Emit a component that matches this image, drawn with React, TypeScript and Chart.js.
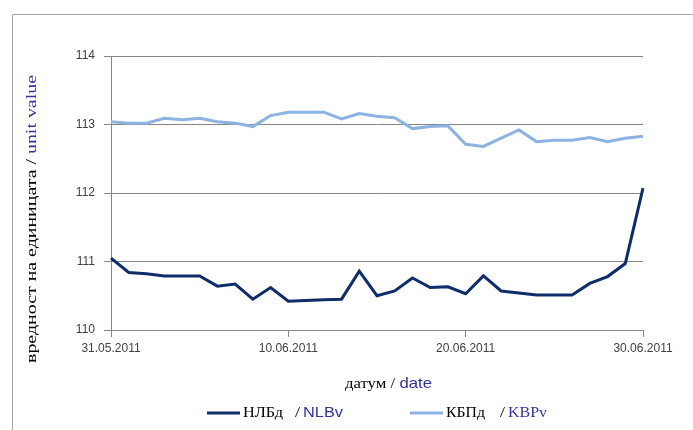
import React, { useEffect, useRef } from "react";
import { Chart, registerables } from "chart.js";

Chart.register(...registerables);

const dates: string[] = [
  "31.05.2011", "01.06.2011", "02.06.2011", "03.06.2011", "04.06.2011", "05.06.2011",
  "06.06.2011", "07.06.2011", "08.06.2011", "09.06.2011", "10.06.2011", "11.06.2011",
  "12.06.2011", "13.06.2011", "14.06.2011", "15.06.2011", "16.06.2011", "17.06.2011",
  "18.06.2011", "19.06.2011", "20.06.2011", "21.06.2011", "22.06.2011", "23.06.2011",
  "24.06.2011", "25.06.2011", "26.06.2011", "27.06.2011", "28.06.2011", "29.06.2011",
  "30.06.2011",
];

const shownTickLabels: string[] = ["31.05.2011", "10.06.2011", "20.06.2011", "30.06.2011"];

const nlbv: number[] = [
  111.05, 110.84, 110.82, 110.79, 110.79, 110.79, 110.64, 110.67, 110.45, 110.62,
  110.42, 110.43, 110.44, 110.45, 110.86, 110.5, 110.57, 110.76, 110.62, 110.63,
  110.53, 110.79, 110.57, 110.54, 110.51, 110.51, 110.51, 110.68, 110.78, 110.97,
  112.07,
];

const kbpv: number[] = [
  113.04, 113.02, 113.02, 113.09, 113.07, 113.09, 113.04, 113.02, 112.97, 113.13,
  113.18, 113.18, 113.18, 113.08, 113.16, 113.12, 113.1, 112.94, 112.97, 112.98,
  112.71, 112.68, 112.8, 112.92, 112.75, 112.77, 112.77, 112.81, 112.75, 112.8,
  112.83,
];

const yTicks: number[] = [110, 111, 112, 113, 114];

const DARK = "#0F2D69";
const LIGHT = "#8DB3E2";
const GRID = "#868686";
const BLUE_TEXT = "#333399";
const SERIF = "'Liberation Serif', 'DejaVu Serif', serif";
const SANS = "'Liberation Sans', Arial, sans-serif";

type Seg = { t: string; c: string; f: string };

function segsWidth(ctx: CanvasRenderingContext2D, segs: Seg[]) {
  let w = 0;
  for (const s of segs) {
    ctx.font = s.f;
    w += ctx.measureText(s.t).width;
  }
  return w;
}

// draws segments starting at x (left), stretched horizontally to targetW
function drawSegsFit(ctx: CanvasRenderingContext2D, segs: Seg[], x: number, y: number, targetW: number) {
  const w = segsWidth(ctx, segs);
  const k = targetW / w;
  ctx.save();
  ctx.translate(x, y);
  ctx.scale(k, 1);
  let cx = 0;
  for (const s of segs) {
    ctx.font = s.f;
    ctx.fillStyle = s.c;
    ctx.fillText(s.t, cx, 0);
    cx += ctx.measureText(s.t).width;
  }
  ctx.restore();
}

const decorPlugin = {
  id: "decor",
  afterDraw(chart: any) {
    const ctx: CanvasRenderingContext2D = chart.ctx;
    ctx.save();
    // outer frame (top and left)
    ctx.strokeStyle = "#A6A6A6";
    ctx.lineWidth = 1;
    ctx.beginPath();
    ctx.moveTo(12.5, 430);
    ctx.lineTo(12.5, 14.5);
    ctx.lineTo(693, 14.5);
    ctx.stroke();

    ctx.textBaseline = "middle";
    ctx.textAlign = "left";

    // y axis title (rotated)
    const ySegs: Seg[] = [
      { t: "вредност на единицата / ", c: "#000000", f: `15px ${SERIF}` },
      { t: "unit value", c: BLUE_TEXT, f: `15px ${SERIF}` },
    ];
    ctx.save();
    ctx.translate(32, 219);
    ctx.rotate(-Math.PI / 2);
    drawSegsFit(ctx, ySegs, -144, 0, 288);
    ctx.restore();

    // x axis title
    const xSegs: Seg[] = [
      { t: "датум / ", c: "#000000", f: `15px ${SERIF}` },
      { t: "date", c: BLUE_TEXT, f: `15px ${SANS}` },
    ];
    drawSegsFit(ctx, xSegs, 345, 384, 87);

    // legend
    const ly = 413;
    ctx.lineWidth = 3;
    ctx.strokeStyle = DARK;
    ctx.beginPath();
    ctx.moveTo(207, ly);
    ctx.lineTo(240, ly);
    ctx.stroke();
    drawSegsFit(ctx, [{ t: "НЛБд", c: "#000000", f: `15px ${SERIF}` }], 243, ly, 40);
    drawSegsFit(ctx, [{ t: "/", c: "#000000", f: `15px ${SERIF}` }], 295, ly, 5);
    drawSegsFit(ctx, [{ t: "NLBv", c: BLUE_TEXT, f: `14px ${SANS}` }], 303, ly, 40);

    ctx.strokeStyle = LIGHT;
    ctx.beginPath();
    ctx.moveTo(410, ly);
    ctx.lineTo(443, ly);
    ctx.stroke();
    drawSegsFit(ctx, [{ t: "КБПд", c: "#000000", f: `15px ${SERIF}` }], 446, ly, 39);
    drawSegsFit(ctx, [{ t: "/", c: "#000000", f: `15px ${SERIF}` }], 500, ly, 5);
    drawSegsFit(ctx, [{ t: "KBPv", c: BLUE_TEXT, f: `15px ${SERIF}` }], 508, ly, 39);

    ctx.restore();
  },
};

export default function App() {
  const ref = useRef<HTMLCanvasElement | null>(null);

  useEffect(() => {
    document.body.style.margin = "0";
    const canvas = ref.current;
    if (!canvas) return;
    const chart = new Chart(canvas, {
      type: "line",
      data: {
        labels: dates,
        datasets: [
          {
            label: "НЛБд / NLBv",
            data: nlbv,
            borderColor: DARK,
            backgroundColor: DARK,
            borderWidth: 3,
            pointRadius: 0,
            tension: 0,
          },
          {
            label: "КБПд / KBPv",
            data: kbpv,
            borderColor: LIGHT,
            backgroundColor: LIGHT,
            borderWidth: 3,
            pointRadius: 0,
            tension: 0,
          },
        ],
      },
      options: {
        animation: false,
        responsive: false,
        maintainAspectRatio: false,
        layout: { padding: { top: 56, right: 50, left: 0, bottom: 0 } },
        plugins: {
          legend: { display: false },
          tooltip: { enabled: false },
        },
        scales: {
          x: {
            type: "category",
            offset: false,
            afterFit: (s: any) => {
              s.height = 100;
            },
            grid: {
              drawOnChartArea: false,
              drawTicks: true,
              tickLength: 7,
              color: (c: any) =>
                c.index !== undefined && shownTickLabels.includes(dates[c.index]) ? GRID : "rgba(0,0,0,0)",
            },
            border: { display: false },
            ticks: {
              autoSkip: false,
              maxRotation: 0,
              minRotation: 0,
              padding: 4,
              color: "#404040",
              font: { family: SANS, size: 12 },
              callback: (_v: any, i: number) =>
                shownTickLabels.includes(dates[i]) ? dates[i] : "",
            },
          },
          y: {
            min: yTicks[0],
            max: yTicks[yTicks.length - 1],
            afterFit: (s: any) => {
              s.width = 111;
            },
            afterBuildTicks: (s: any) => {
              s.ticks = yTicks.map((v) => ({ value: v }));
            },
            grid: {
              color: GRID,
              lineWidth: 1,
              drawTicks: true,
              tickLength: 7,
            },
            border: { display: true, color: GRID },
            ticks: {
              padding: 9,
              color: "#404040",
              font: { family: SANS, size: 12 },
              callback: (v: any) => String(v),
            },
          },
        },
      },
      plugins: [decorPlugin],
    });
    return () => chart.destroy();
  }, []);

  return (
    <div style={{ width: 693, height: 430, position: "relative", background: "#fff" }}>
      <canvas ref={ref} width={693} height={430} style={{ display: "block" }} />
    </div>
  );
}
